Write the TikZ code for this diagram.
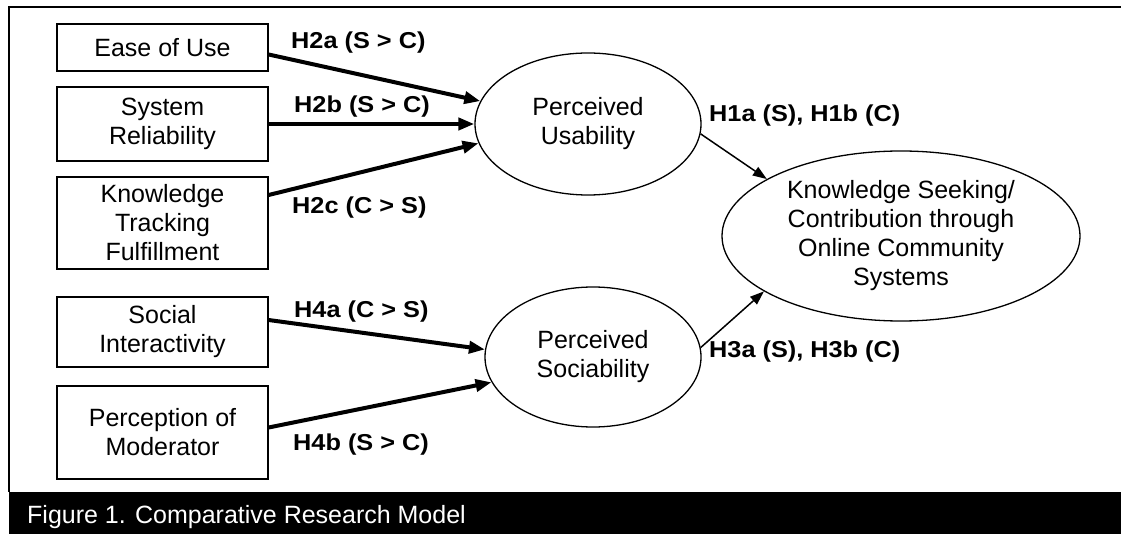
\documentclass[tikz,border=0pt]{standalone}
\usepackage{fontspec}
\setmainfont{Liberation Sans}
\newfontfamily\hypfont[FakeStretch=1.1]{Liberation Sans}
\usetikzlibrary{shapes.geometric,arrows.meta}

\begin{document}
\begin{tikzpicture}[x=1pt,y=-1pt,
                >={Triangle[length=16pt,width=12pt]},
                factor/.style={draw,line width=1.3pt,minimum width=211pt,inner sep=0pt,
                    align=center,font=\fontsize{25}{29}\selectfont},
                construct/.style={ellipse,draw,line width=1.3pt,inner sep=0pt,
                    align=center,font=\fontsize{25}{29}\selectfont},
                strong/.style={->,line width=4pt},
                weak/.style={->,line width=1.5pt,>={Triangle[length=14pt,width=10pt]}},
                hyp/.style={anchor=west,inner sep=0pt,font=\hypfont\bfseries\fontsize{23}{27}\selectfont}]
            \useasboundingbox (0,0) rectangle (1121,534);
            \draw [line width=2pt] (1121,7) -- (9,7) -- (9,492);
            \fill (9,492) rectangle (1121,534);
            \node [anchor=base west,text=white,inner sep=0pt,font=\fontsize{25}{29}\selectfont]
                (caption) at (27,523) {Figure 1. Comparative Research Model};

            % antecedents
            \node [factor,minimum height=47pt] (ease) at (162.5,47.5) {Ease of Use};
            \node [factor,minimum height=74pt] (rel) at (162.5,124) {System\\Reliability};
            \node [factor,minimum height=92pt] (track) at (162.5,223) {Knowledge\\Tracking\\Fulfillment};
            \node [factor,minimum height=70pt] (social) at (162.5,332) {Social\\Interactivity};
            \node [factor,minimum height=93pt] (moder) at (162.5,432.5) {Perception of\\Moderator};

            % mediators and outcome
            \node [construct,minimum width=226pt,minimum height=142pt] (pu) at (588,124) {Perceived\\Usability};
            \node [construct,minimum width=216pt,minimum height=140pt] (ps) at (593,357) {Perceived\\Sociability};
            \node [construct,minimum width=358pt,minimum height=170pt] (ks) at (901,236)
                {Knowledge Seeking/\\Contribution through\\Online Community\\Systems};

            \draw [strong] ([yshift=-7pt]ease.east) -- (pu.168);
            \draw [strong] (rel.east) -- (pu.west);
            \draw [strong] ([yshift=28pt]track.east) -- (pu.190);
            \draw [strong] ([yshift=12pt]social.east) -- (ps.176);
            \draw [strong] ([yshift=5pt]moder.east) -- (ps.194);
            \draw [weak] (pu.-5) -- (ks.157);
            \draw [weak] (ps.5) -- (ks.202);

            \node [hyp] (h2a) at (291,43) {H2a (S > C)};
            \node [hyp] (h2b) at (294,107) {H2b (S > C)};
            \node [hyp] (h2c) at (292,208) {H2c (C > S)};
            \node [hyp] (h4a) at (294,312) {H4a (C > S)};
            \node [hyp] (h4b) at (293,445) {H4b (S > C)};
            \node [hyp] (h1) at (709,116) {H1a (S), H1b (C)};
            \node [hyp] (h3) at (709,352) {H3a (S), H3b (C)};
\end{tikzpicture}
\end{document}
